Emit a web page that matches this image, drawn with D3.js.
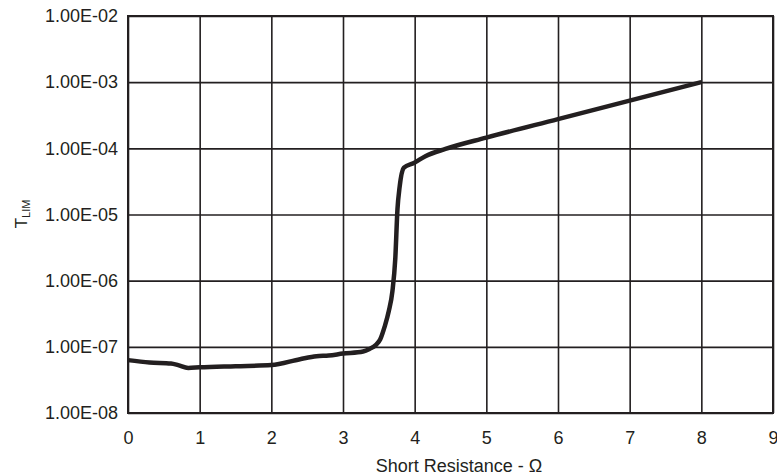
<!DOCTYPE html>
<html>
<head>
<meta charset="utf-8">
<script src="https://d3js.org/d3.v7.min.js"></script>
<style>
	body { margin: 0; background: #fff; }
	text { font-family: "Liberation Sans", Arial, sans-serif; fill: #231f20; }
	.grid line { stroke: #231f20; stroke-width: 1.6; }
	.grid path { display: none; }
	.tick text { font-size: 18px; }
</style>
</head>
<body>
<svg width="777" height="475"></svg>
<script>

// short resistance (ohm) and T_LIM
var resistance = [0, 0.3, 0.6, 0.7, 0.84, 1, 1.5, 2, 2.4, 2.63, 2.8, 3, 3.28, 3.37, 3.46, 3.52, 3.58, 3.64, 3.69, 3.73, 3.76, 3.79, 3.85, 3.99, 4.15, 4.43, 5, 6, 7, 8];
var tlim = [6.3e-8, 5.8e-8, 5.6e-8, 5.3e-8, 4.8e-8, 4.9e-8, 5.1e-8, 5.3e-8, 6.5e-8, 7.2e-8, 7.4e-8, 7.9e-8, 8.5e-8, 9.3e-8, 1.07e-7, 1.3e-7, 2.0e-7, 3.5e-7, 7e-7, 2.2e-6, 1.2e-5, 2.6e-5, 5.1e-5, 6e-5, 7.6e-5, 9.8e-5, 1.45e-4, 2.76e-4, 5.25e-4, 1e-3];

var xTicks = [0, 1, 2, 3, 4, 5, 6, 7, 8, 9];
var yTicks = [1e-8, 1e-7, 1e-6, 1e-5, 1e-4, 1e-3, 1e-2];
var yTickLabels = ["1.00E-08", "1.00E-07", "1.00E-06", "1.00E-05", "1.00E-04", "1.00E-03", "1.00E-02"];

var svg = d3.select("svg"),
	margin = {top: 16, right: 4, bottom: 62, left: 128},
	width = +svg.attr("width") - margin.left - margin.right,
	height = +svg.attr("height") - margin.top - margin.bottom;

var x = d3.scaleLinear().domain([0, 9]).range([0, width]),
	y = d3.scaleLog().domain([1e-8, 1e-2]).range([height, 0]);

var g = svg.append("g")
	.attr("transform", "translate(" + margin.left + "," + margin.top + ")");

g.append("g")
	.attr("class", "grid")
	.attr("transform", "translate(0," + height + ")")
	.call(d3.axisBottom(x).tickValues(xTicks).tickFormat(d3.format("d"))
		.tickSizeInner(-height).tickSizeOuter(0).tickPadding(18));

g.append("g")
	.attr("class", "grid")
	.call(d3.axisLeft(y).tickValues(yTicks)
		.tickFormat(function(d, i) { return yTickLabels[i]; })
		.tickSizeInner(-width).tickSizeOuter(0).tickPadding(10));

g.selectAll(".tick text").attr("fill", "#231f20");

g.append("rect")
	.attr("width", width)
	.attr("height", height)
	.attr("fill", "none")
	.attr("stroke", "#231f20")
	.attr("stroke-width", 2);

var pts = resistance.map(function(r, i) { return [r, tlim[i]]; });

var line = d3.line()
	.x(function(d) { return x(d[0]); })
	.y(function(d) { return y(d[1]); })
	.curve(d3.curveMonotoneX);

g.append("path")
	.datum(pts)
	.attr("fill", "none")
	.attr("stroke", "#231f20")
	.attr("stroke-width", 4.5)
	.attr("stroke-linejoin", "round")
	.attr("d", line);

svg.append("text")
	.attr("x", 459)
	.attr("y", 472)
	.attr("text-anchor", "middle")
	.attr("font-size", 18)
	.text("Short Resistance - Ω");

var yt = svg.append("text")
	.attr("transform", "translate(27,214) rotate(-90)")
	.attr("text-anchor", "middle")
	.attr("font-size", 17);
yt.append("tspan").text("T");
yt.append("tspan").attr("font-size", 11).attr("dy", 3).text("LIM");

</script>
</body>
</html>
